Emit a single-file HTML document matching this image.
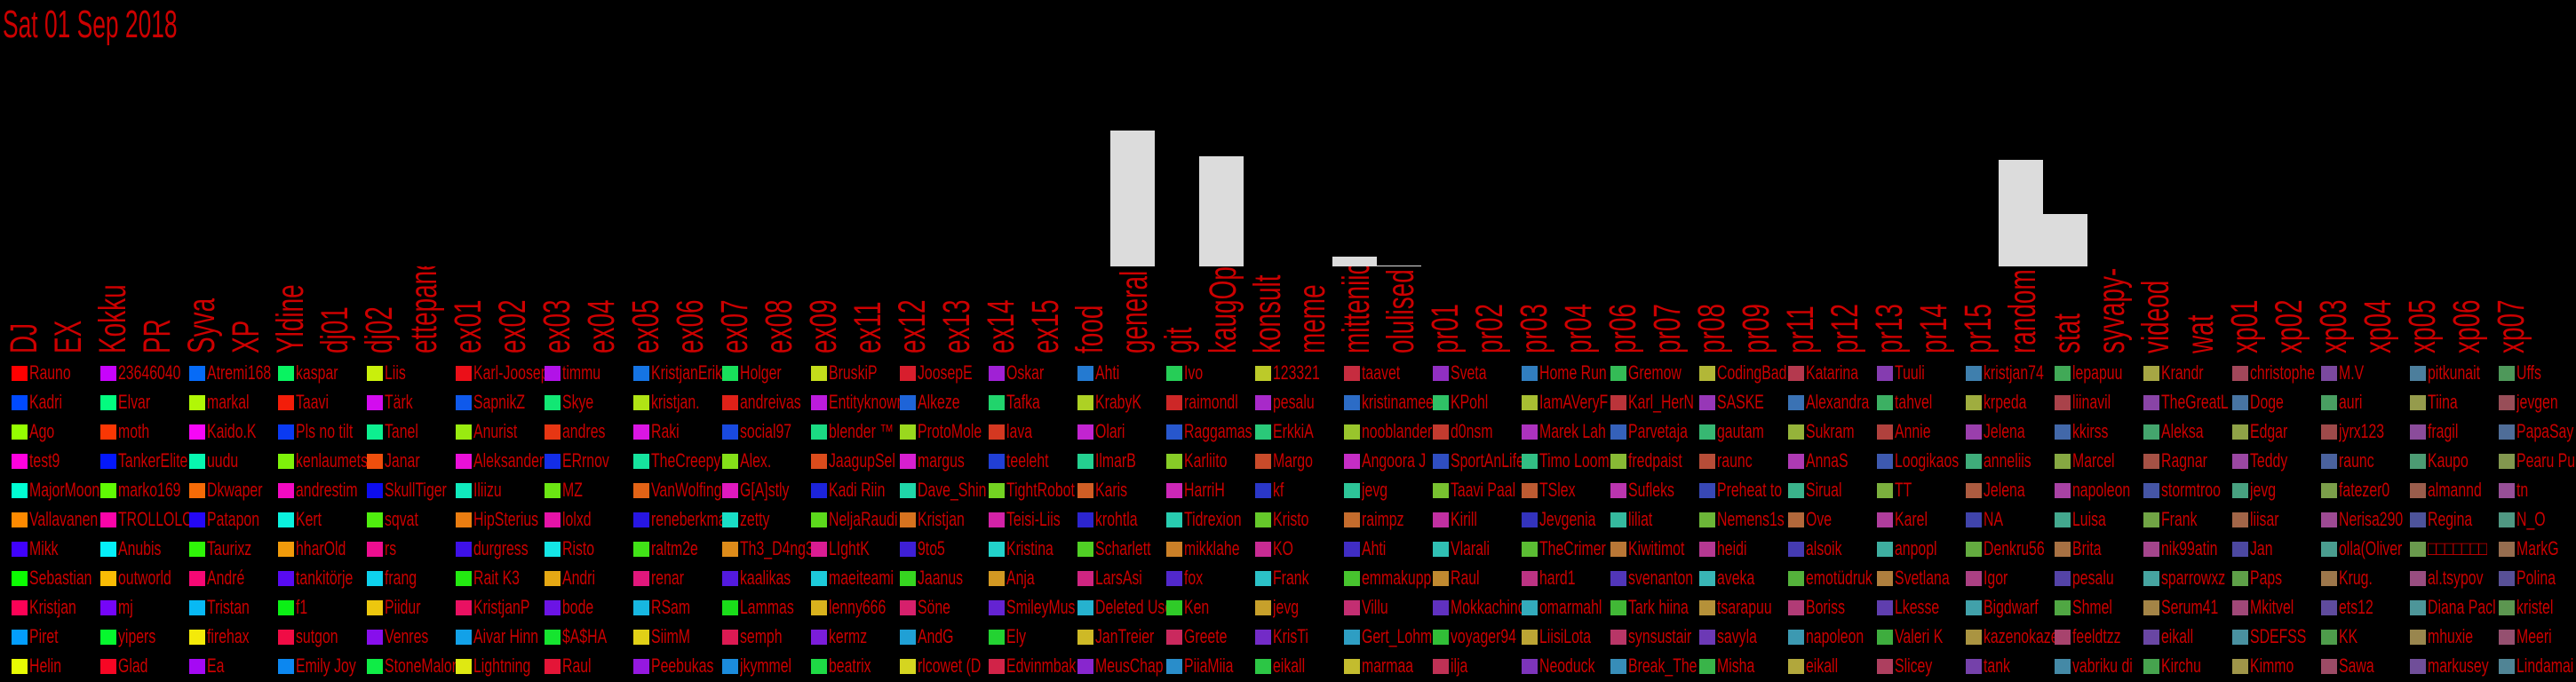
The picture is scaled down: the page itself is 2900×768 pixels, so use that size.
<!DOCTYPE html>
<html><head><meta charset="utf-8"><style>
html,body{margin:0;padding:0;background:#000;width:2900px;height:768px;overflow:hidden;position:relative}
#chart{position:absolute;left:0;top:0}
.lg{position:absolute;height:20px}
.sq{position:absolute;left:13px;top:0;width:18px;height:17px}
.tx{position:absolute;left:33px;top:-6px;width:80px;height:28px;overflow:hidden}
.tx span{display:block;white-space:nowrap;font-family:"Liberation Sans","Noto Sans CJK SC",sans-serif;font-size:22px;color:#cc0000;transform:scaleX(0.72);transform-origin:0 0;line-height:28px}
</style></head><body>
<svg id="chart" width="2900" height="410" xmlns="http://www.w3.org/2000/svg">
<defs><clipPath id="lblclip"><rect x="0" y="300" width="2900" height="110"/></clipPath></defs>
<text transform="translate(3,42) scale(0.6,1)" font-family="Liberation Sans, sans-serif" font-size="44" fill="#cc0000">Sat 01 Sep 2018</text>
<g id="bars"></g>
<g id="labels" clip-path="url(#lblclip)"></g>
</svg>
<div id="legend"></div>
<script>
const categories = ["DJ","EX","Kokku","PR","Syva","XP","Yldine","dj01","dj02","ettepanekud","ex01","ex02","ex03","ex04","ex05","ex06","ex07","ex08","ex09","ex11","ex12","ex13","ex14","ex15","food","general","git","kaugOp","konsult","meme","mitteniic","olulised","pr01","pr02","pr03","pr04","pr06","pr07","pr08","pr09","pr11","pr12","pr13","pr14","pr15","random","stat","syvapy-","videod","wat","xp01","xp02","xp03","xp04","xp05","xp06","xp07"];
const values = [0,0,0,0,0,0,0,0,0,0,0,0,0,0,0,0,0,0,0,0,0,0,0,0,0,153,0,124,0,0,11,1,0,0,0,0,0,0,0,0,0,0,0,0,0,120,59,0,0,0,0,0,0,0,0,0,0];
const users = [
"Rauno","Kadri","Ago","test9","MajorMoon","Vallavanen","Mikk","Sebastian","Kristjan","Piret","Helin",
"23646040","Elvar","moth","TankerElite","marko169","TROLLOLOL","Anubis","outworld","mj","yipers","Glad",
"Atremi168","markal","Kaido.K","uudu","Dkwaper","Patapon","Taurixz","André","Tristan","firehax","Ea",
"kaspar","Taavi","Pls no tilt","kenlaumets","andrestim","Kert","hharOld","tankitörje","f1","sutgon","Emily Joy",
"Liis","Tärk","Tanel","Janar","SkullTiger","sqvat","rs","frang","Piidur","Venres","StoneMalone",
"Karl-Joosep","SapnikZ","Anurist","Aleksander","Iliizu","HipSterius","durgress","Rait K3","KristjanP","Aivar Hinn","Lightning",
"timmu","Skye","andres","ERrnov","MZ","lolxd","Risto","Andri","bode","$A$HA","Raul",
"KristjanEriksson","kristjan.","Raki","TheCreepy","VanWolfing","reneberkman","raltm2e","renar","RSam","SiimM","Peebukas",
"Holger","andreivas","social97","Alex.","G[A]stly","zetty","Th3_D4ng3r","kaalikas","Lammas","semph","jkymmel",
"BruskiP","Entityknown","blender ™","JaagupSel","Kadi Riin","NeljaRaudi","LIghtK","maeiteami","lenny666","kermz","beatrix",
"JoosepE","Alkeze","ProtoMole","margus","Dave_Shin","Kristjan","9to5","Jaanus","Söne","AndG","rlcowet (D",
"Oskar","Tafka","lava","teeleht","TightRobot","Teisi-Liis","Kristina","Anja","SmileyMus","Ely","Edvinmbak",
"Ahti","KrabyK","Olari","IlmarB","Karis","krohtla","Scharlett","LarsAsi","Deleted User","JanTreier","MeusChap",
"Ivo","raimondl","Raggamas","Karliito","HarriH","Tidrexion","mikklahe","fox","Ken","Greete","PiiaMiia",
"123321","pesalu","ErkkiA","Margo","kf","Kristo","KO","Frank","jevg","KrisTi","eikall",
"taavet","kristinamee","nooblander","Angoora J","jevg","raimpz","Ahti","emmakupp","Villu","Gert_Lohmus","marmaa",
"Sveta","KPohl","d0nsm","SportAnLife","Taavi Paal","Kirill","Vlarali","Raul","Mokkachino","voyager94","ilja",
"Home Run","IamAVeryF","Marek Lah","Timo Loom","TSlex","Jevgenia","TheCrimer","hard1","omarmahl","LiisiLota","Neoduck",
"Gremow","Karl_HerN","Parvetaja","fredpaist","Sufleks","liliat","Kiwitimot","svenanton","Tark hiina","synsustair","Break_The",
"CodingBad","SASKE","gautam","raunc","Preheat to","Nemens1s","heidi","aveka","tsarapuu","savyla","Misha",
"Katarina","Alexandra","Sukram","AnnaS","Sirual","Ove","alsoik","emotüdruk","Boriss","napoleon","eikall",
"Tuuli","tahvel","Annie","Loogikaos","TT","Karel","anpopl","Svetlana","Lkesse","Valeri K","Slicey",
"kristjan74","krpeda","Jelena","anneliis","Jelena","NA","Denkru56","Igor","Bigdwarf","kazenokaze","tank",
"lepapuu","liinavil","kkirss","Marcel","napoleon","Luisa","Brita","pesalu","Shmel","feeldtzz","vabriku di",
"Krandr","TheGreatL","Aleksa","Ragnar","stormtroo","Frank","nik99atin","sparrowxz","Serum41","eikall","Kirchu",
"christophe","Doge","Edgar","Teddy","jevg","liisar","Jan","Paps","Mkitvel","SDEFSS","Kimmo",
"M.V","auri","jyrx123","raunc","fatezer0","Nerisa290","olla(Oliver","Krug.","ets12","KK","Sawa",
"pitkunait","Tiina","fragil","Kaupo","almannd","Regina","□□□□□□□","al.tsypov","Diana Pacl","mhuxie","markusey",
"Uffs","jevgen","PapaSay","Pearu Pu","tn","N_O","MarkG","Polina","kristel","Meeri","Lindamai"];

const NS="http://www.w3.org/2000/svg";
const colW=50, baseY=300, pxPerUnit=1;
function xScale(i){return i*colW;}
function yScale(v){return baseY - v*pxPerUnit;}
const gb=document.getElementById('bars'), gl=document.getElementById('labels');
categories.forEach((c,i)=>{
  const v=values[i];
  if(v>0){
    const r=document.createElementNS(NS,'rect');
    r.setAttribute('x',xScale(i));r.setAttribute('y',yScale(v));
    r.setAttribute('width',colW);r.setAttribute('height',baseY-yScale(v));
    r.setAttribute('fill','#dcdcdc');
    
    
    gb.appendChild(r);
  }
  const t=document.createElementNS(NS,'text');
  t.setAttribute('transform','translate('+(xScale(i)+41)+',398) rotate(-90) scale(0.65,1)');
  t.setAttribute('font-family','Liberation Sans, sans-serif');
  t.setAttribute('font-size','43');
  t.setAttribute('fill','#cc0000');
  t.textContent=c;
  
  
  gl.appendChild(t);
});
const lg=document.getElementById('legend');
const N=users.length;
users.forEach((u,i)=>{
  const col=Math.floor(i/11), row=i%11;
  const d=document.createElement('div');
  d.className='lg';
  d.style.left=(col*100)+'px';
  d.style.top=(412+row*33)+'px';
  
  
  const hue=(i*222.5)%360, sat=100-70*i/(N-1), lig=50-5*i/(N-1);
  const s=document.createElement('div');
  s.className='sq';
  s.style.background='hsl('+hue+','+sat+'%,'+lig+'%)';
  
  
  const tx=document.createElement('div');
  tx.className='tx';
  const sp=document.createElement('span');
  sp.textContent=u;
  
  
  tx.appendChild(sp);
  d.appendChild(tx);d.appendChild(s);
  lg.appendChild(d);
});
</script>
</body></html>
